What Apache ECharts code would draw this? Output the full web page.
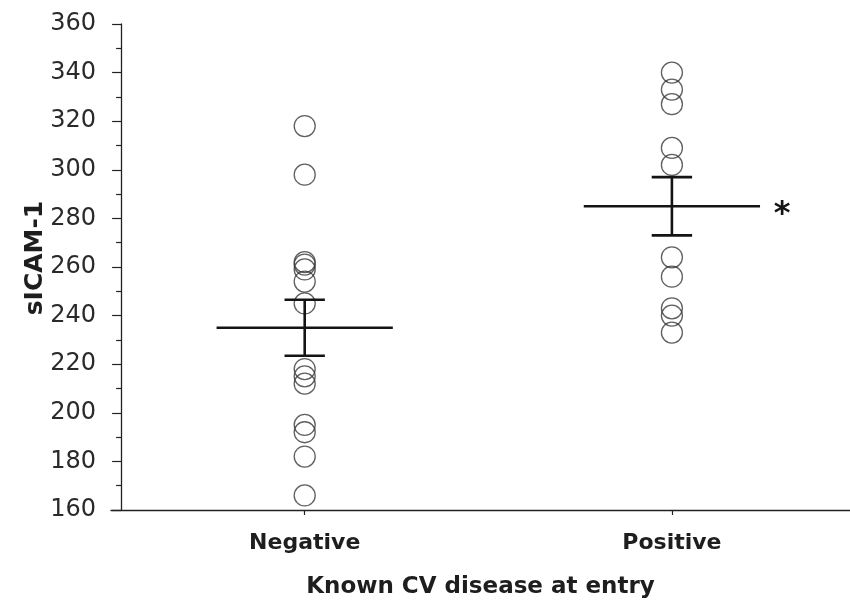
<!DOCTYPE html>
<html>
<head>
<meta charset="utf-8">
<script src="https://cdn.jsdelivr.net/npm/echarts@6/dist/echarts.min.js"></script>
<style>
  html, body { margin: 0; padding: 0; background: #ffffff; }
  #chart { width: 850px; height: 602px; }
</style>
</head>
<body>
<div id="chart"></div>
<script>
// Groups on the x axis
const groups = ['Negative', 'Positive'];

// sICAM-1 values of each subject, per group
const negativeValues = [318, 298, 262, 261, 259, 254, 245, 218, 215, 212, 195, 192, 182, 166];
const positiveValues = [340, 333, 327, 309, 302, 264, 256, 243, 240, 233];

// Group mean and standard error of the mean
const groupMeans = [235, 285];
const groupSEM = [11.5, 12];

// Significance marker beside each group mean
const significance = ['', '*'];

// Y axis range and tick step
const yMin = 160;
const yMax = 360;
const yStep = 20;

const FONT = '"DejaVu Sans", "Liberation Sans", Arial, sans-serif';
const groupX = groups.map((g, i) => i * 2 + 1);

const MEAN_HALF = 0.48;   // half length of the mean bar, x units
const CAP_HALF = 0.11;    // half length of the SEM caps, x units

const chart = echarts.init(document.getElementById('chart'), null, { renderer: 'canvas' });

function pointsOf(values, gi) {
  return values.map(v => [groupX[gi], v]);
}

const pointStyle = {
  color: 'rgba(255,255,255,0)',
  borderColor: '#383838',
  borderWidth: 1.3
};

const option = {
  backgroundColor: '#ffffff',
  animation: false,
  grid: {
    left: 111,
    right: 0,
    top: 24,
    bottom: 92,
    containLabel: false,
    outerBoundsMode: 'none'
  },
  xAxis: {
    type: 'value',
    min: -0.055,
    max: 3.97,
    splitLine: { show: false },
    axisLine: { show: true, lineStyle: { color: '#222', width: 1.3 } },
    axisTick: {
      show: true,
      customValues: groupX,
      length: 5,
      lineStyle: { color: '#222', width: 1.2 }
    },
    axisLabel: {
      show: true,
      customValues: groupX,
      margin: 22,
      formatter: v => groups[groupX.indexOf(Math.round(v))] || '',
      fontFamily: FONT,
      fontWeight: 'bold',
      fontSize: 22,
      color: '#1e1e1e'
    },
    name: 'Known CV disease at entry',
    nameLocation: 'middle',
    nameGap: 66,
    nameTextStyle: {
      fontFamily: FONT,
      fontWeight: 'bold',
      fontSize: 23,
      color: '#1e1e1e'
    }
  },
  yAxis: {
    type: 'value',
    min: yMin,
    max: yMax,
    interval: yStep,
    splitLine: { show: false },
    axisLine: { show: true, onZero: true, lineStyle: { color: '#222', width: 1.3 } },
    axisTick: { show: true, length: 9, lineStyle: { color: '#222', width: 1.2 } },
    minorTick: { show: true, splitNumber: 2, length: 5, lineStyle: { color: '#222', width: 1.2 } },
    axisLabel: {
      margin: 15,
      fontFamily: FONT,
      fontSize: 24,
      color: '#2a2a2a'
    }
  },
  graphic: [{
    type: 'text',
    x: 35,
    y: 258,
    rotation: Math.PI / 2,
    style: {
      text: 'sICAM-1',
      font: 'bold 25px ' + FONT,
      fill: '#1e1e1e',
      align: 'center',
      verticalAlign: 'middle'
    }
  }],
  series: [
    {
      name: groups[0],
      type: 'scatter',
      symbol: 'circle',
      symbolSize: 21,
      itemStyle: pointStyle,
      data: pointsOf(negativeValues, 0),
      z: 2
    },
    {
      name: groups[1],
      type: 'scatter',
      symbol: 'circle',
      symbolSize: 21,
      itemStyle: pointStyle,
      data: pointsOf(positiveValues, 1),
      z: 2
    },
    {
      name: 'Mean ± SEM',
      type: 'custom',
      clip: false,
      z: 3,
      data: groups.map((g, i) => [groupX[i], groupMeans[i], groupSEM[i]]),
      encode: { x: 0, y: 1 },
      renderItem: function (params, api) {
        const x = api.value(0);
        const m = api.value(1);
        const s = api.value(2);
        const c = api.coord([x, m]);
        const top = api.coord([x, m + s]);
        const bot = api.coord([x, m - s]);
        const half = api.size([MEAN_HALF, 0])[0];
        const cap = api.size([CAP_HALF, 0])[0];
        const stroke = { stroke: '#141414', lineWidth: 2.6 };
        const children = [
          { type: 'line', shape: { x1: c[0] - half, y1: c[1], x2: c[0] + half, y2: c[1] }, style: stroke },
          { type: 'line', shape: { x1: c[0], y1: top[1], x2: c[0], y2: bot[1] }, style: stroke },
          { type: 'line', shape: { x1: c[0] - cap, y1: top[1], x2: c[0] + cap, y2: top[1] }, style: stroke },
          { type: 'line', shape: { x1: c[0] - cap, y1: bot[1], x2: c[0] + cap, y2: bot[1] }, style: stroke }
        ];
        const mark = significance[params.dataIndex];
        if (mark) {
          children.push({
            type: 'text',
            x: c[0] + half + 22,
            y: c[1] + 8,
            style: {
              text: mark,
              font: 'bold 32px ' + FONT,
              fill: '#141414',
              align: 'center',
              verticalAlign: 'middle'
            }
          });
        }
        return { type: 'group', children: children };
      }
    }
  ]
};

chart.setOption(option);
</script>
</body>
</html>
